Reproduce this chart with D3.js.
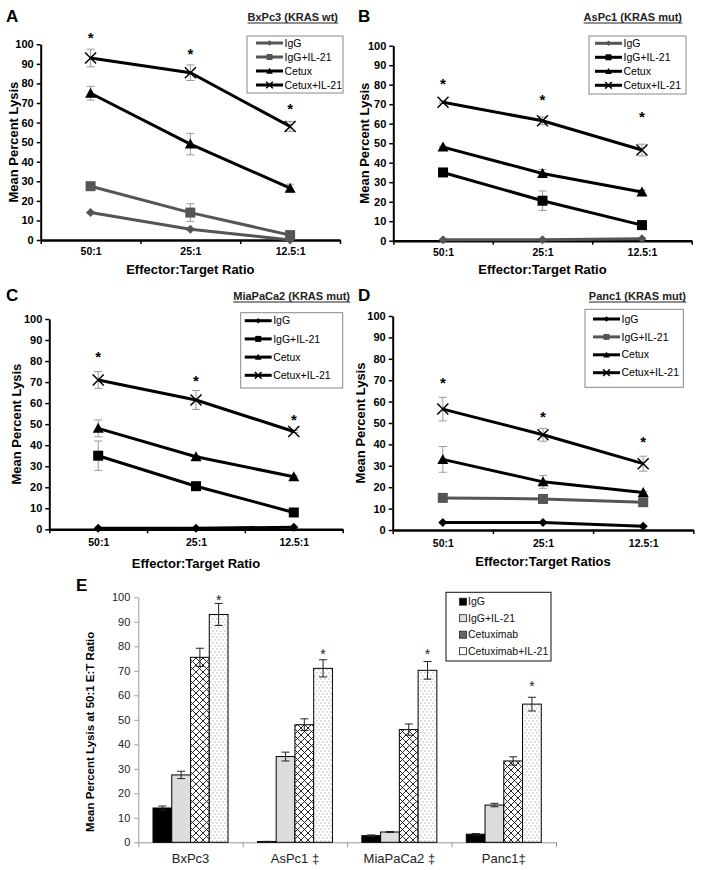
<!DOCTYPE html>
<html><head><meta charset="utf-8">
<script src="https://cdn.jsdelivr.net/npm/d3@7"></script>
<style>body{margin:0;background:#fff}svg{display:block}</style>
</head><body><svg id="c" width="704" height="870"></svg>
<script>
// ---------------- DATA ----------------
const ratios = ["50:1", "25:1", "12.5:1"];
const lineSeries = ["IgG", "IgG+IL-21", "Cetux", "Cetux+IL-21"];
const yTickVals = [0, 10, 20, 30, 40, 50, 60, 70, 80, 90, 100];

// Panel A  BxPc3 (KRAS wt)
const aIgG = [14, 5.5, 0];          const aIgGErr = [0.5, 0.5, 0];
const aIgGIL21 = [27.5, 14, 2.5];   const aIgGIL21Err = [1, 4.5, 0.5];
const aCetux = [75, 49, 26.5];      const aCetuxErr = [3.5, 5.5, 2];
const aCetuxIL21 = [93, 85.5, 58];  const aCetuxIL21Err = [4.5, 4, 2.5];
const aStars = [105, 97, 69];

// Panel B  AsPc1 (KRAS mut)
const bIgG = [0.5, 0.5, 1];         const bIgGErr = [0, 0, 0];
const bIgGIL21 = [35, 20.5, 8];     const bIgGIL21Err = [0.5, 5, 0.5];
const bCetux = [48, 34.5, 25];      const bCetuxErr = [0.5, 2, 1];
const bCetuxIL21 = [71, 61.5, 46.5];const bCetuxIL21Err = [0.5, 2, 3];
const bStars = [82, 74, 65.5];

// Panel C  MiaPaCa2 (KRAS mut)
const cIgG = [0.5, 0.5, 1];         const cIgGErr = [0, 0, 0];
const cIgGIL21 = [35, 20.5, 8];     const cIgGIL21Err = [7, 0.5, 0.5];
const cCetux = [48, 34.5, 25];      const cCetuxErr = [4, 0.5, 0.5];
const cCetuxIL21 = [71, 61.5, 46.5];const cCetuxIL21Err = [4, 4.5, 0.5];
const cStars = [83.5, 72, 53.5];

// Panel D  Panc1 (KRAS mut)
const dIgG = [3.5, 3.5, 1.8];       const dIgGErr = [0.3, 0.3, 0.2];
const dIgGIL21 = [15, 14.5, 13];    const dIgGIL21Err = [0.5, 0.5, 0.5];
const dCetux = [33, 22.5, 17.5];    const dCetuxErr = [6, 3, 0.5];
const dCetuxIL21 = [56.5, 44.5, 31];const dCetuxIL21Err = [5.5, 3, 3.5];
const dStars = [70.5, 54.5, 43];

// Panel E  50:1 bars
const cellLines = ["BxPc3", "AsPc1 \u2021", "MiaPaCa2 \u2021", "Panc1\u2021"];
const barSeries = ["IgG", "IgG+IL-21", "Cetuximab", "Cetuximab+IL-21"];
const eIgG = [14, 0.3, 2.7, 3.3];          const eIgGErr = [0.8, 0.1, 0.3, 0.3];
const eIgGIL21 = [27.5, 35, 4.2, 15.2];    const eIgGIL21Err = [1.5, 1.8, 0.2, 0.7];
const eCetux = [75.5, 48, 46, 33.2];       const eCetuxErr = [3.7, 2.4, 2.3, 1.7];
const eCetuxIL21 = [93, 71, 70.2, 56.4];   const eCetuxIL21Err = [4.5, 3.5, 3.6, 2.8];
const eStars = [100, 78, 78, 65];

// ---------------- DRAWING ----------------
const FONT = '"Liberation Sans", Arial, Helvetica, sans-serif';
const svg = d3.select("#c").attr("font-family", FONT);
const GRAY = "#555", BLACK = "#000";

const shapes = {
  diamond: s => `M0,${-4.5*s}L${4.5*s},0L0,${4.5*s}L${-4.5*s},0Z`,
  square: s => `M${-5*s},${-5*s}h${10*s}v${10*s}h${-10*s}Z`,
  triangle: s => `M0,${-5.5*s}L${5.5*s},${4.5*s}L${-5.5*s},${4.5*s}Z`,
  cross: s => `M${-5.5*s},${-5.5*s}L${5.5*s},${5.5*s}M${-5.5*s},${5.5*s}L${5.5*s},${-5.5*s}`
};
const shapeOf = ["diamond", "square", "triangle", "cross"];

function drawMarker(g, shape, color, x, y, s) {
  const p = g.append("path").attr("d", shapes[shape](s)).attr("transform", `translate(${x},${y})`);
  if (shape === "cross") p.attr("fill", "none").attr("stroke", color).attr("stroke-width", 1.5);
  else p.attr("fill", color).attr("stroke", "none");
}

function linePanel(p) {
  const g = svg.append("g");
  const x = d3.scalePoint().domain(ratios).range([p.x0, p.x1]).padding(0.5);
  const xl = d3.scaleLinear().domain([0, 3]).range([p.x0, p.x1]);
  const y = d3.scaleLinear().domain([0, 100]).range([p.yBot, p.yTop]);

  const ya = g.append("g").attr("transform", `translate(${p.x0},0)`)
    .call(d3.axisLeft(y).tickValues(yTickVals).tickSize(4).tickSizeOuter(0).tickPadding(3));
  ya.select(".domain").attr("stroke", BLACK).attr("stroke-width", 2);
  ya.selectAll(".tick line").attr("stroke", BLACK).attr("stroke-width", 1.5);
  ya.selectAll(".tick text").attr("font-family", FONT).attr("font-weight", "bold")
    .attr("font-size", 11).attr("fill", BLACK);

  const xa = g.append("g").attr("transform", `translate(0,${p.yBot})`)
    .call(d3.axisBottom(xl).tickValues([0, 1, 2, 3]).tickFormat("").tickSize(4).tickSizeOuter(0));
  xa.select(".domain").attr("stroke", BLACK).attr("stroke-width", 2.5);
  xa.selectAll(".tick line").attr("stroke", BLACK).attr("stroke-width", 1.5);
  const xb = g.append("g").attr("transform", `translate(0,${p.yBot})`)
    .call(d3.axisBottom(x).tickSize(0).tickPadding(p.xLabelY - p.yBot - 7.8));
  xb.select(".domain").remove();
  xb.selectAll(".tick text").attr("font-family", FONT).attr("font-weight", "bold")
    .attr("font-size", 10.5).attr("fill", BLACK);

  g.append("text").attr("x", (p.x0 + p.x1) / 2).attr("y", p.xTitleY).attr("text-anchor", "middle")
    .attr("font-weight", "bold").attr("font-size", 13).text(p.xTitle);
  g.append("text").attr("transform", `translate(${p.yTitleX},${(p.yTop + p.yBot) / 2}) rotate(-90)`)
    .attr("text-anchor", "middle").attr("dy", "0.35em")
    .attr("font-weight", "bold").attr("font-size", 13).text("Mean Percent Lysis");
  g.append("text").attr("x", p.lx).attr("y", p.ly).attr("font-weight", "bold")
    .attr("font-size", 17).text(p.label);
  const t = g.append("text").attr("x", p.titleX).attr("y", p.titleY).attr("text-anchor", "end")
    .attr("font-weight", "bold").attr("font-size", 11).attr("fill", "#222").text(p.title);
  const bb = t.node().getBBox();
  g.append("line").attr("x1", bb.x).attr("x2", bb.x + bb.width)
    .attr("y1", p.titleY + 2).attr("y2", p.titleY + 2).attr("stroke", "#222").attr("stroke-width", 1);

  p.series.forEach(s => {
    s.v.forEach((v, i) => {
      const e = s.e[i];
      if (!e) return;
      const cx = x(ratios[i]);
      g.append("path").attr("fill", "none").attr("stroke", "#999").attr("stroke-width", 1)
        .attr("d", `M${cx},${y(v - e)}V${y(v + e)}M${cx - 4},${y(v + e)}H${cx + 4}M${cx - 4},${y(v - e)}H${cx + 4}`);
    });
  });
  const line = d3.line().x((d, i) => x(ratios[i])).y(d => y(d));
  p.series.forEach(s => {
    g.append("path").datum(s.v).attr("fill", "none").attr("stroke", s.color)
      .attr("stroke-width", 3).attr("d", line);
  });
  p.series.forEach((s, k) => {
    s.v.forEach((v, i) => drawMarker(g, shapeOf[k], s.color, x(ratios[i]), y(v), 1));
  });
  p.stars.forEach((v, i) => {
    g.append("text").attr("x", x(ratios[i])).attr("y", y(v) + 8.6).attr("text-anchor", "middle")
      .attr("font-size", 15).attr("font-weight", "bold").text("*");
  });

  const L = p.legend;
  g.append("rect").attr("x", L.x).attr("y", L.y).attr("width", L.w).attr("height", L.h)
    .attr("fill", "#fff").attr("stroke", "#888").attr("stroke-width", 1);
  p.series.forEach((s, k) => {
    const ry = L.y + L.r0 + k * L.dy;
    g.append("line").attr("x1", L.x + L.l0).attr("x2", L.x + L.l1).attr("y1", ry).attr("y2", ry)
      .attr("stroke", s.color).attr("stroke-width", 3);
    drawMarker(g, shapeOf[k], s.color, L.x + (L.l0 + L.l1) / 2, ry, 0.6);
    g.append("text").attr("x", L.x + L.l1 + 1.5).attr("y", ry).attr("dy", "0.35em")
      .attr("font-size", 10.5).attr("fill", "#000").text(lineSeries[k]);
  });
}

linePanel({
  label: "A", lx: 6, ly: 22, title: "BxPc3 (KRAS wt)", titleX: 338, titleY: 21,
  x0: 40.7, x1: 340, yTop: 44.3, yBot: 240, xLabelY: 255, xTitleY: 274, yTitleX: 13,
  xTitle: "Effector:Target Ratio",
  legend: { x: 247, y: 36, w: 96, h: 57, r0: 7, dy: 14, l0: 9, l1: 36 },
  stars: aStars,
  series: [
    { v: aIgG, e: aIgGErr, color: GRAY },
    { v: aIgGIL21, e: aIgGIL21Err, color: GRAY },
    { v: aCetux, e: aCetuxErr, color: BLACK },
    { v: aCetuxIL21, e: aCetuxIL21Err, color: BLACK }
  ]
});
linePanel({
  label: "B", lx: 358, ly: 22, title: "AsPc1 (KRAS mut)", titleX: 682, titleY: 21,
  x0: 393.3, x1: 691.7, yTop: 45.7, yBot: 240.7, xLabelY: 256, xTitleY: 274, yTitleX: 364,
  xTitle: "Effector:Target Ratio",
  legend: { x: 589, y: 36, w: 97, h: 58, r0: 7.3, dy: 14, l0: 6, l1: 33 },
  stars: bStars,
  series: [
    { v: bIgG, e: bIgGErr, color: GRAY },
    { v: bIgGIL21, e: bIgGIL21Err, color: BLACK },
    { v: bCetux, e: bCetuxErr, color: BLACK },
    { v: bCetuxIL21, e: bCetuxIL21Err, color: BLACK }
  ]
});
linePanel({
  label: "C", lx: 6, ly: 301, title: "MiaPaCa2 (KRAS mut)", titleX: 350, titleY: 300,
  x0: 49.3, x1: 342.7, yTop: 319, yBot: 529.3, xLabelY: 546, xTitleY: 568, yTitleX: 16,
  xTitle: "Effector:Target Ratio",
  legend: { x: 240.7, y: 312.7, w: 102, h: 75.3, r0: 8, dy: 18.2, l0: 4, l1: 31 },
  stars: cStars,
  series: [
    { v: cIgG, e: cIgGErr, color: BLACK },
    { v: cIgGIL21, e: cIgGIL21Err, color: BLACK },
    { v: cCetux, e: cCetuxErr, color: BLACK },
    { v: cCetuxIL21, e: cCetuxIL21Err, color: BLACK }
  ]
});
linePanel({
  label: "D", lx: 358, ly: 301, title: "Panc1 (KRAS mut)", titleX: 686, titleY: 300,
  x0: 392.7, x1: 693.3, yTop: 316, yBot: 530, xLabelY: 547, xTitleY: 566, yTitleX: 360,
  xTitle: "Effector:Target Ratios",
  legend: { x: 585, y: 309.3, w: 98.3, h: 78, r0: 9.7, dy: 17.9, l0: 8, l1: 35 },
  stars: dStars,
  series: [
    { v: dIgG, e: dIgGErr, color: BLACK },
    { v: dIgGIL21, e: dIgGIL21Err, color: GRAY },
    { v: dCetux, e: dCetuxErr, color: BLACK },
    { v: dCetuxIL21, e: dCetuxIL21Err, color: BLACK }
  ]
});

// ---------------- Panel E ----------------
(function () {
  const g = svg.append("g");
  const defs = svg.append("defs");
  const hatch = defs.append("pattern").attr("id", "hatch").attr("patternUnits", "userSpaceOnUse")
    .attr("width", 7).attr("height", 7);
  hatch.append("rect").attr("width", 7).attr("height", 7).attr("fill", "#fff");
  hatch.append("path").attr("d", "M0,0L7,7M7,0L0,7M-1,6L1,8M6,-1L8,1M-1,1L1,-1M6,8L8,6")
    .attr("stroke", "#111").attr("stroke-width", 0.9);
  const dots = defs.append("pattern").attr("id", "dots").attr("patternUnits", "userSpaceOnUse")
    .attr("width", 4).attr("height", 6);
  dots.append("rect").attr("width", 4).attr("height", 6).attr("fill", "#fff");
  dots.append("rect").attr("x", 0.5).attr("y", 0.5).attr("width", 0.9).attr("height", 0.9).attr("fill", "#666");
  dots.append("rect").attr("x", 2.5).attr("y", 3.5).attr("width", 0.9).attr("height", 0.9).attr("fill", "#666");
  const fills = ["#000", "#ddd", "url(#hatch)", "url(#dots)"];

  const x0 = 138.3, x1 = 556, yTop = 597.3, yBot = 842.3;
  const xE = d3.scaleBand().domain(cellLines).range([x0, x1]);
  const groupW = 75;
  const xS = d3.scaleBand().domain(barSeries).range([0, groupW]);
  const off = (xE.bandwidth() - groupW) / 2;
  const y = d3.scaleLinear().domain([0, 100]).range([yBot, yTop]);
  const vals = [eIgG, eIgGIL21, eCetux, eCetuxIL21];
  const errs = [eIgGErr, eIgGIL21Err, eCetuxErr, eCetuxIL21Err];

  const ya = g.append("g").attr("transform", `translate(${x0},0)`)
    .call(d3.axisLeft(y).tickValues(yTickVals).tickSize(4).tickSizeOuter(0).tickPadding(4));
  ya.select(".domain").attr("stroke", "#999").attr("stroke-width", 1);
  ya.selectAll(".tick line").attr("stroke", "#999");
  ya.selectAll(".tick text").attr("font-family", FONT).attr("font-size", 11).attr("fill", "#222");

  const xa = g.append("g").attr("transform", `translate(0,${yBot})`)
    .call(d3.axisBottom(d3.scaleLinear().domain([0, 4]).range([x0, x1]))
      .tickValues([0, 1, 2, 3, 4]).tickFormat("").tickSize(5).tickSizeOuter(0));
  xa.select(".domain").attr("stroke", "#999");
  xa.selectAll(".tick line").attr("stroke", "#999");
  const xb = g.append("g").attr("transform", `translate(0,${yBot})`)
    .call(d3.axisBottom(xE).tickSize(0).tickPadding(11));
  xb.select(".domain").remove();
  xb.selectAll(".tick text").attr("font-family", FONT).attr("font-size", 13).attr("fill", "#222");

  barSeries.forEach((s, k) => {
    cellLines.forEach((c, i) => {
      const bx = xE(c) + off + xS(s);
      g.append("rect").attr("x", bx).attr("y", y(vals[k][i])).attr("width", xS.bandwidth())
        .attr("height", yBot - y(vals[k][i])).attr("fill", fills[k])
        .attr("stroke", "#000").attr("stroke-width", 1);
    });
  });
  barSeries.forEach((s, k) => {
    cellLines.forEach((c, i) => {
      const cx = xE(c) + off + xS(s) + xS.bandwidth() / 2;
      const v = vals[k][i], e = errs[k][i];
      g.append("path").attr("fill", "none").attr("stroke", "#222").attr("stroke-width", 1)
        .attr("d", `M${cx},${y(v - e)}V${y(v + e)}M${cx - 4},${y(v + e)}H${cx + 4}M${cx - 4},${y(v - e)}H${cx + 4}`);
    });
  });
  eStars.forEach((v, i) => {
    const cx = xE(cellLines[i]) + off + xS(barSeries[3]) + xS.bandwidth() / 2;
    g.append("text").attr("x", cx).attr("y", y(v) + 8).attr("text-anchor", "middle")
      .attr("font-size", 14).attr("fill", "#222").text("*");
  });

  g.append("text").attr("transform", `translate(90,${(yTop + yBot) / 2 + 12}) rotate(-90)`)
    .attr("text-anchor", "middle").attr("dy", "0.35em").attr("font-weight", "bold")
    .attr("font-size", 11.5).text("Mean Percent Lysis at 50:1 E:T Ratio");
  g.append("text").attr("x", 76).attr("y", 591).attr("font-weight", "bold").attr("font-size", 17).text("E");

  const L = { x: 446, y: 592.3, w: 105, h: 68.7, r0: 9.4, dy: 16.5 };
  g.append("rect").attr("x", L.x).attr("y", L.y).attr("width", L.w).attr("height", L.h)
    .attr("fill", "#fff").attr("stroke", "#111").attr("stroke-width", 1);
  const swFill = ["#000", "#ddd", "#666", "#fff"];
  barSeries.forEach((s, k) => {
    const ry = L.y + L.r0 + k * L.dy;
    g.append("rect").attr("x", L.x + 13.5).attr("y", ry - 3.5).attr("width", 7).attr("height", 7)
      .attr("fill", swFill[k]).attr("stroke", "#222").attr("stroke-width", 0.8);
    g.append("text").attr("x", L.x + 22).attr("y", ry).attr("dy", "0.35em")
      .attr("font-size", 10.5).attr("fill", "#111").text(s);
  });
})();
</script>
</body></html>
